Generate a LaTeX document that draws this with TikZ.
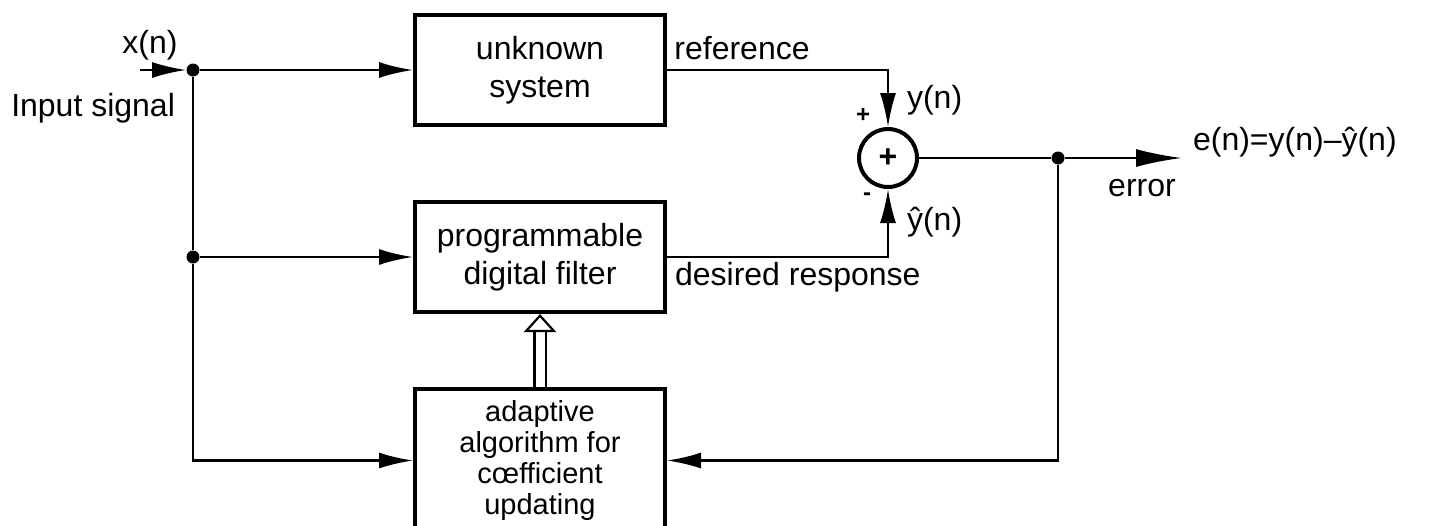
\documentclass[tikz,border=0pt]{standalone}
\usepackage{fontspec}
\setmainfont{Liberation Sans}
\usetikzlibrary{arrows.meta}
\usetikzlibrary{positioning}

\begin{document}
\begin{tikzpicture}
          [x=0.5pt, y=-0.5pt, node distance=36.5pt,
           font=\fontsize{16}{19}\selectfont,
           block/.style={draw, line width=2pt, minimum width=125pt, minimum height=55pt, align=center, inner sep=2pt},
           dot/.style={circle, fill, inner sep=0pt, minimum size=6.5pt},
           sig/.style={line width=1.2pt, -{Latex[length=17pt,width=8pt]}},
           wire/.style={line width=1.2pt},
           upd/.style={double, double distance=4.5pt, line width=1.1pt,
             -{Triangle[open, length=9pt, width=16pt, line width=1.1pt]}}]
          \useasboundingbox (0,0) rectangle (1439,525);

          \node (unk) [block] at (540,70) {unknown\\system};
          \node (filt) [block, below = of unk] {programmable\\digital filter};
          \node (adapt) [block, below = of filt, minimum height=71.5pt,
            font=\fontsize{14.5}{15.5}\selectfont] {adaptive\\algorithm for\\cœfficient\\updating};
          \node (sum) [circle, draw, line width=2pt, minimum size=29pt, inner sep=0pt] at (888,158) {\bfseries +};

          \node (j1) [dot] at (193,70) {};
          \node (j2) [dot] at (j1 |- filt) {};
          \node (j3) [dot] at (1058,158) {};
          \coordinate (in) at (140,70);
          \coordinate (out) at (1182,158);

          \node (xn) at (150,45) {x(n)};
          \node (insig) [anchor=east] at (182,108) {Input signal};
          \node (ref) at (742,48) {reference};
          \node (yn) [anchor=west] at (900,100) {y(n)};
          \node (yhat) [anchor=west] at (900,222) {ŷ(n)};
          \node (plus) [font=\fontsize{12}{12}\bfseries] at (863,115) {+};
          \node (minus) [font=\fontsize{12}{12}\bfseries] at (867,197) {-};
          \node (en) [anchor=west] at (1186,142) {e(n)=y(n)–ŷ(n)};
          \node (err) at (1142,188) {error};
          \node (des) [anchor=west] at (668,277) {desired response};

          \draw[sig] (in) -- (j1);
          \draw[sig] (j1) -- (unk);
          \draw[wire] (j1) -- (j2);
          \draw[sig] (j2) -- (filt);
          \draw[sig] (j2) |- (adapt);
          \draw[sig] (unk) -| (sum);
          \draw[sig] (filt) -| (sum);
          \draw[wire] (sum) -- (j3);
          \draw[sig, -{Latex[length=23pt,width=9pt]}] (j3) -- (out);
          \draw[sig] (j3) |- (adapt);
          \draw[upd] (adapt) -- (filt);
        \end{tikzpicture}
\end{document}
